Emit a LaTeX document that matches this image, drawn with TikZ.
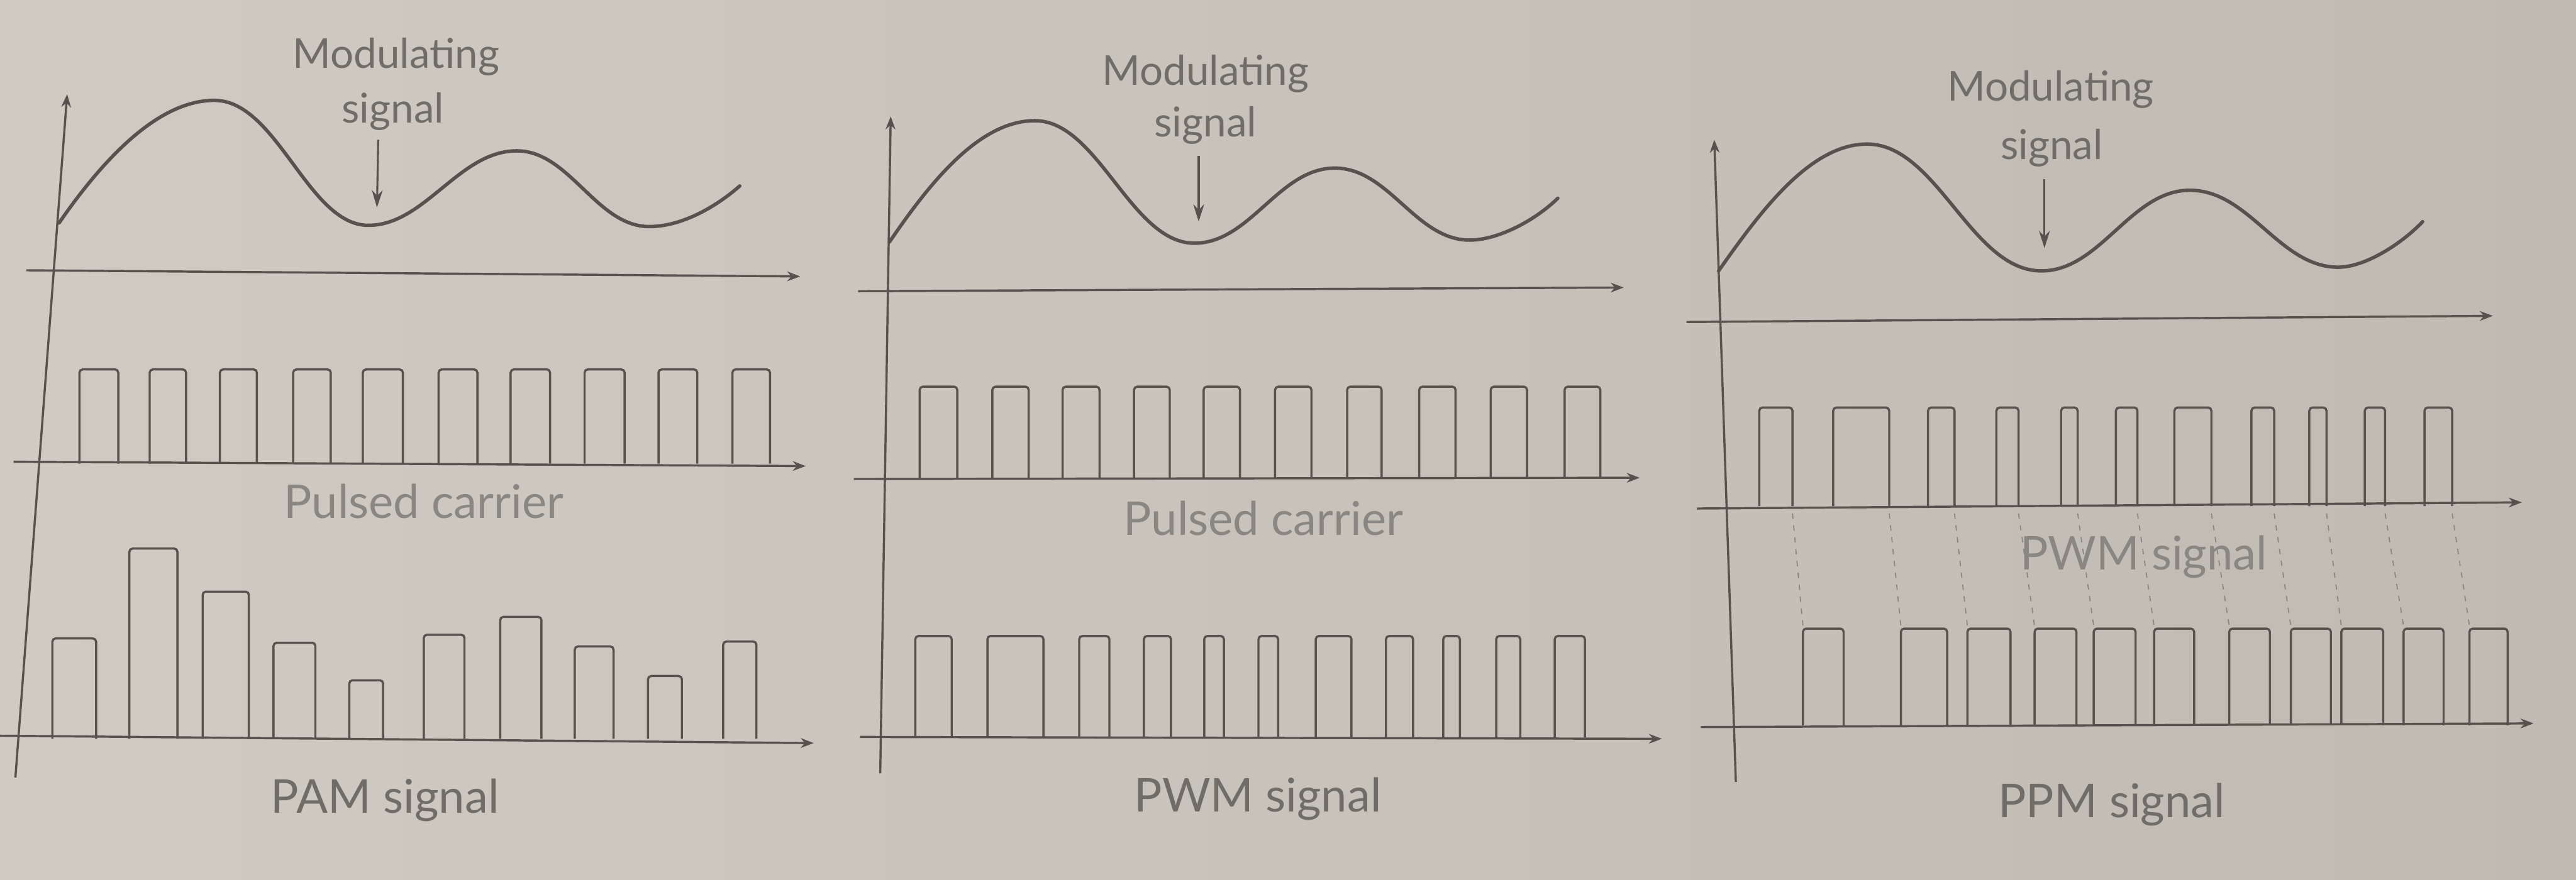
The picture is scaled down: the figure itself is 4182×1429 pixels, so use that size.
\documentclass[tikz,border=0pt]{standalone}
\usepackage{fontspec}
\setmainfont{Lato}
\usetikzlibrary{arrows.meta}
\definecolor{paperL}{HTML}{CFCBC3}
\definecolor{paperR}{HTML}{BFBAB2}
\definecolor{ink}{HTML}{57524D}
\definecolor{txt}{HTML}{706C67}
\definecolor{txtlight}{HTML}{8A8681}
\begin{document}
\begin{tikzpicture}[x=0.01cm,y=-0.01cm,
  sig/.style={line width=1.6pt, draw=ink, line cap=round, line join=round},
  ax/.style={line width=1pt, draw=ink, -{Stealth[length=6pt,width=4.5pt]}},
  pulse/.style={line width=1pt, draw=ink, rounded corners=1.5pt},
  guide/.style={line width=0.5pt, draw=ink!70, dash pattern=on 2.5pt off 3pt},
  lab/.style={text=txt, font=\fontsize{19}{22}\selectfont, inner sep=0pt},
  big/.style={text=txt, font=\fontsize{21.5}{24}\selectfont, inner sep=0pt},
  pointer/.style={line width=0.9pt, draw=ink, -{Stealth[length=8pt,width=5pt]}}]
\shade[left color=paperL, right color=paperR] (0,0) rectangle (4182,1429);
\useasboundingbox (0,0) rectangle (4182,1429);

%%%%%%%%%%%%%%%% Panel 1 : PAM
\coordinate (p1b) at (25,1263); \coordinate (p1t) at (109,153);
\draw[ax] (p1b) -- (p1t);
\coordinate (h1a) at (43,439); \coordinate (h1b) at (1299,449);
\draw[ax] (h1a) -- (h1b);
\coordinate (h2a) at (22,750); \coordinate (h2b) at (1308,757);
\draw[ax] (h2a) -- (h2b);
\coordinate (h3a) at (0,1195); \coordinate (h3b) at (1321,1207);
\draw[ax] (h3a) -- (h3b);
\draw[sig] (96,362) .. controls (165,262) and (255,163) .. (348,163)
  .. controls (450,163) and (500,366) .. (598,366)
  .. controls (690,366) and (745,245) .. (839,245)
  .. controls (925,245) and (968,368) .. (1054,368)
  .. controls (1105,368) and (1160,338) .. (1201,302);
\node[lab] (mod1) at (643,92) {Modulating};
\node[lab] (sg1) at (638,181) {signal};
\coordinate (a1s) at (614,227); \coordinate (a1e) at (612,337);
\draw[pointer] (a1s) -- (a1e);
\foreach \a/\b in {129/192,243/302,357/417,476/537,589/654,712/775,829/893,949/1014,1069/1132,1189/1250}
  \draw[pulse] (\a,753) |- (\b,600) -- (\b,753);
\node[big, text=txtlight] (pc1) at (688,814) {Pulsed carrier};
\foreach \a/\b/\t in {85/156/1037,210/288/891,329/404/961,444/512/1044,567/622/1105,688/754/1031,812/879/1002,933/996/1050,1052/1107/1098,1174/1228/1042}
  \draw[pulse] (\a,1200) |- (\b,\t) -- (\b,1200);
\node[big] (pam) at (625,1300) {PAM signal};

%%%%%%%%%%%%%%%% Panel 2 : PWM
\coordinate (q1b) at (1429,1256); \coordinate (q1t) at (1446,189);
\draw[ax] (q1b) -- (q1t);
\coordinate (k1a) at (1393,473); \coordinate (k1b) at (2636,467);
\draw[ax] (k1a) -- (k1b);
\coordinate (k2a) at (1386,778); \coordinate (k2b) at (2662,776);
\draw[ax] (k2a) -- (k2b);
\coordinate (k3a) at (1396,1197); \coordinate (k3b) at (2698,1200);
\draw[ax] (k3a) -- (k3b);
\draw[sig] (1444,393) .. controls (1510,296) and (1590,196) .. (1680,196)
  .. controls (1783,196) and (1836,395) .. (1939,395)
  .. controls (2030,395) and (2076,273) .. (2167,273)
  .. controls (2255,273) and (2298,390) .. (2386,390)
  .. controls (2430,390) and (2490,360) .. (2529,322);
\node[lab] (mod2) at (1957,120) {Modulating};
\node[lab] (sg2) at (1957,204) {signal};
\coordinate (a2s) at (1946,253); \coordinate (a2e) at (1946,360);
\draw[pointer] (a2s) -- (a2e);
\foreach \a/\b in {1493/1554,1611/1670,1725/1785,1841/1899,1954/2013,2070/2129,2187/2243,2304/2363,2420/2479,2540/2598}
  \draw[pulse] (\a,777) |- (\b,628) -- (\b,777);
\node[big, text=txtlight] (pc2) at (2051,842) {Pulsed carrier};
\foreach \a/\b in {1486/1545,1603/1694,1752/1801,1857/1901,1955/1987,2043/2075,2136/2194,2250/2294,2343/2370,2429/2468,2524/2573}
  \draw[pulse] (\a,1198) |- (\b,1033) -- (\b,1198);
\node[big] (pwm) at (2042,1298) {PWM signal};

%%%%%%%%%%%%%%%% Panel 3 : PPM
\coordinate (r1b) at (2818,1270); \coordinate (r1t) at (2783,227);
\draw[ax] (r1b) -- (r1t);
\coordinate (m1a) at (2738,523); \coordinate (m1b) at (4047,513);
\draw[ax] (m1a) -- (m1b);
\coordinate (m2a) at (2755,826); \coordinate (m2b) at (4094,816);
\draw[ax] (m2a) -- (m2b);
\coordinate (m3a) at (2761,1181); \coordinate (m3b) at (4113,1175);
\draw[ax] (m3a) -- (m3b);
\draw[sig] (2790,440) .. controls (2860,340) and (2940,234) .. (3031,234)
  .. controls (3145,234) and (3200,440) .. (3314,440)
  .. controls (3410,440) and (3459,309) .. (3555,309)
  .. controls (3652,309) and (3700,434) .. (3796,434)
  .. controls (3840,434) and (3900,395) .. (3933,360);
\node[lab] (mod3) at (3329,145) {Modulating};
\node[lab] (sg3) at (3331,240) {signal};
\coordinate (a3s) at (3319,291); \coordinate (a3e) at (3319,403);
\draw[pointer] (a3s) -- (a3e);
\foreach \a/\b in {2856/2910,2976/3067,3130/3173,3241/3277,3346/3373,3435/3470,3530/3590,3655/3692,3749/3777,3839/3872,3936/3981}
  \draw[pulse] (\a,822) |- (\b,662) -- (\b,822);
\foreach \a/\b in {2910/2927,3067/3086,3173/3194,3277/3303,3373/3399,3470/3497,3590/3619,3692/3719,3777/3801,3872/3902,3981/4009}
  \draw[guide] (\a,834) -- (\b,1017);
\node[big, text=txtlight] (pwm3) at (3480,905) {PWM signal};
\foreach \a/\b in {2927/2993,3086/3161,3194/3264,3303/3371,3399/3467,3497/3562,3619/3685,3719/3784,3801/3869,3902/3967,4009/4071}
  \draw[pulse] (\a,1178) |- (\b,1021) -- (\b,1178);
\node[big] (ppm) at (3428,1307) {PPM signal};
\end{tikzpicture}
\end{document}
